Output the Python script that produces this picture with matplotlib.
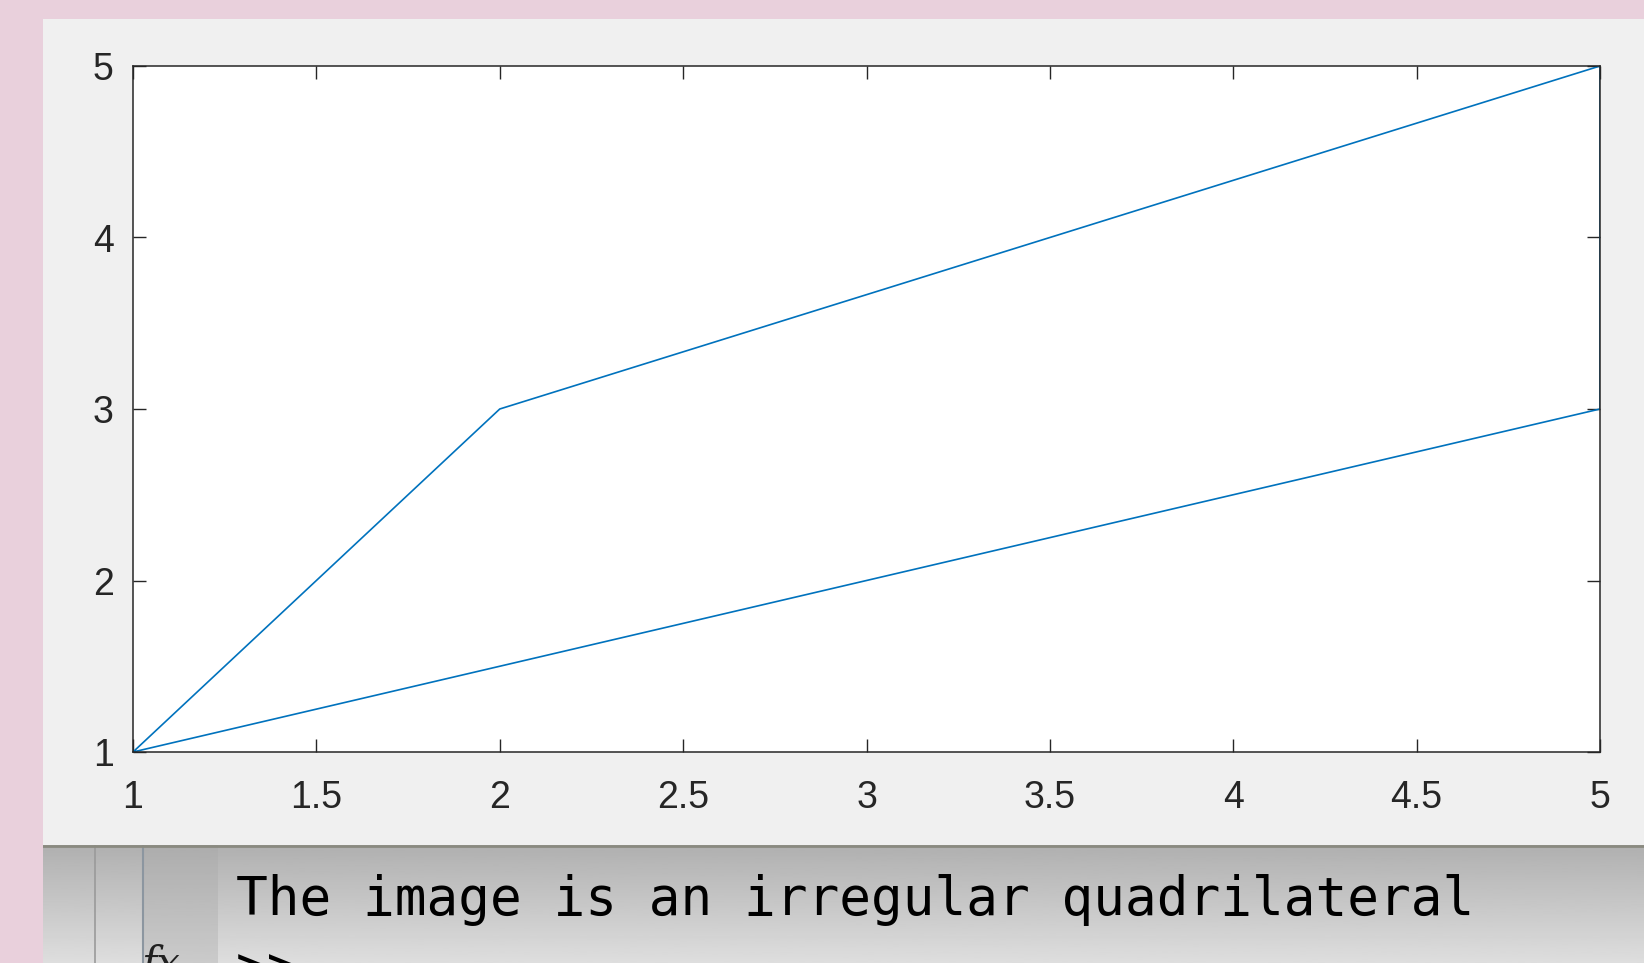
# Imports
import numpy as np
import matplotlib.pyplot as plt
from matplotlib.patches import Rectangle

# Data: corners of the quadrilateral, closed back at the start
x = [1, 2, 5, 5, 1]
y = [1, 3, 5, 3, 1]
x_ticks = [1, 1.5, 2, 2.5, 3, 3.5, 4, 4.5, 5]
x_labels = ['1', '1.5', '2', '2.5', '3', '3.5', '4', '4.5', '5']
y_ticks = [1, 2, 3, 4, 5]
message = 'The image is an irregular quadrilateral'

W, H = 1644, 963
fig = plt.figure(figsize=(W / 100, H / 100), dpi=100)
fig.patch.set_facecolor('#e9d0dc')

# Grey figure window behind the axes
fig.patches.append(Rectangle((43 / W, (H - 845) / H), 1 - 43 / W, (845 - 19) / H,
                             transform=fig.transFigure, facecolor='#f0f0f0',
                             edgecolor='none', zorder=-5))

# Main axes, MATLAB look
ax = fig.add_axes([133 / W, (H - 752) / H, (1600 - 133) / W, (752 - 66) / H])
ax.set_zorder(2)
ax.set_facecolor('white')
ax.plot(x, y, color='#0072bd', linewidth=1.2)
ax.set_xlim(1, 5)
ax.set_ylim(1, 5)
ax.set_xticks(x_ticks)
ax.set_xticklabels(x_labels)
ax.set_yticks(y_ticks)
for s in ax.spines.values():
    s.set_color('#262626')
    s.set_linewidth(1.1)
ax.tick_params(direction='in', length=9.5, width=1.0, color='#262626',
               labelcolor='#262626', labelsize=27, top=True, right=True)
ax.tick_params(axis='x', pad=20)
ax.tick_params(axis='y', pad=14)
for lab in ax.get_xticklabels() + ax.get_yticklabels():
    lab.set_fontfamily('Liberation Sans')

# Command window strip at the bottom
cx = fig.add_axes([43 / W, 0, 1 - 43 / W, (H - 845) / H])
grad = np.linspace(0.69, 0.87, 100).reshape(-1, 1)
cx.imshow(grad, cmap='gray', vmin=0, vmax=1, aspect='auto', extent=[43, W, H, 845])
cx.set_xlim(43, W)
cx.set_ylim(H, 845)
cx.axvspan(143, 218, color='#a8a8a8', alpha=0.35, lw=0)
cx.axvline(95, color='#9a9a9a', lw=1.2)
cx.axvline(143, color='#8c96a0', lw=1.5)
cx.axhline(846, color='#8a8a80', lw=2)
cx.axis('off')

fig.text(236 / W, (H - 915) / H, message, fontsize=38, family='DejaVu Sans Mono',
         color='black', va='baseline', ha='left')
fig.text(142 / W, (H - 977) / H, 'fx', fontsize=30, family='DejaVu Serif',
         style='italic', color='#202020', va='baseline')
fig.text(236 / W, (H - 985) / H, '>>', fontsize=38, family='DejaVu Sans Mono',
         color='black', va='baseline')

fig.savefig('out.png', dpi=100, facecolor=fig.get_facecolor())
